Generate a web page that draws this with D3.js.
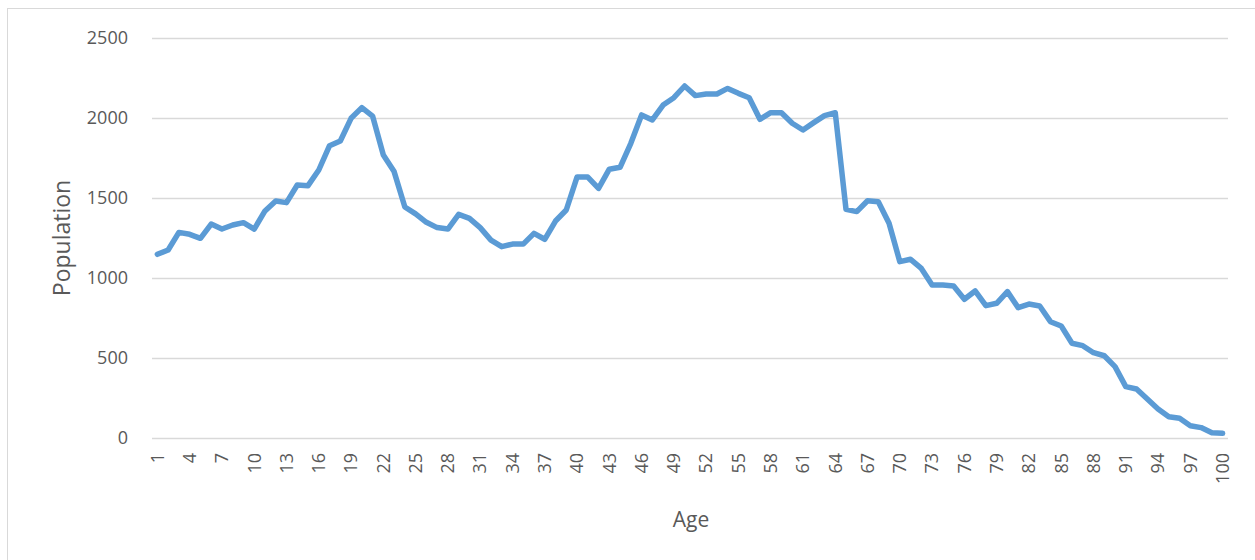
<!DOCTYPE html>
<html>
<head>
<meta charset="utf-8">
<script src="https://cdn.jsdelivr.net/npm/d3@7"></script>
<style>
  body { margin: 0; background: #fff; }
  text { font-family: "Open Sans", sans-serif; fill: #595959; }
</style>
</head>
<body>
<div id="graph"></div>
<script>
const width = 1255;
const height = 560;

// ages 1..100
const ages = d3.range(1, 101);
const population = [
  1148, 1175, 1285, 1273, 1248, 1337, 1306, 1331, 1346, 1306,
  1419, 1481, 1471, 1581, 1577, 1675, 1827, 1856, 1998, 2065,
  2012, 1769, 1665, 1444, 1401, 1348, 1315, 1306, 1398, 1373,
  1315, 1237, 1196, 1212, 1212, 1279, 1242, 1356, 1425, 1631,
  1631, 1560, 1680, 1692, 1842, 2019, 1988, 2081, 2127, 2200,
  2140, 2150, 2150, 2185, 2154, 2127, 1992, 2033, 2033, 1967,
  1925, 1971, 2015, 2033, 1429, 1415, 1483, 1477, 1342, 1102,
  1117, 1060, 956, 956, 950, 867, 919, 827, 842, 915,
  815, 837, 825, 727, 700, 592, 577, 533, 514, 446,
  321, 306, 244, 181, 133, 123, 77, 65, 33, 29
];
const xTickLabels = [1, 4, 7, 10, 13, 16, 19, 22, 25, 28, 31, 34, 37, 40, 43, 46, 49,
  52, 55, 58, 61, 64, 67, 70, 73, 76, 79, 82, 85, 88, 91, 94, 97, 100];
const yTicks = [0, 500, 1000, 1500, 2000, 2500];

const plot = { left: 152, right: 1228, top: 38, bottom: 438 };

var svg = d3.select("#graph")
  .append("svg")
  .attr("width", width)
  .attr("height", height);

// chart frame
svg.append("rect")
  .attr("x", 7.5)
  .attr("y", 8.5)
  .attr("width", 1270)
  .attr("height", 600)
  .attr("fill", "none")
  .attr("stroke", "#d9d9d9");

var xscale = d3.scaleBand()
  .domain(ages)
  .range([plot.left, plot.right]);

var yscale = d3.scaleLinear()
  .domain([0, 2500])
  .range([plot.bottom, plot.top]);

// y axis with gridlines
var yAxis = d3.axisLeft(yscale)
  .tickValues(yTicks)
  .tickFormat(d3.format("d"))
  .tickSize(-(plot.right - plot.left))
  .tickPadding(24);

var gy = svg.append("g")
  .attr("transform", "translate(" + plot.left + ",0)")
  .call(yAxis);
gy.select(".domain").remove();
gy.selectAll("line").attr("stroke", "#d9d9d9").attr("stroke-width", 1.3);
gy.selectAll("text")
  .attr("font-size", "18px")
  .attr("fill", "#595959");

// x axis, labels rotated
var xAxis = d3.axisBottom(xscale)
  .tickValues(xTickLabels)
  .tickSize(0);

var gx = svg.append("g")
  .attr("transform", "translate(0," + plot.bottom + ")")
  .call(xAxis);
gx.select(".domain").remove();
gx.selectAll("text")
  .attr("font-size", "18px")
  .attr("fill", "#595959")
  .attr("text-anchor", "end")
  .attr("y", 0)
  .attr("dy", "0.35em")
  .attr("transform", "translate(0,15) rotate(-90)");

// population line
var line = d3.line()
  .x(function(d, i) { return xscale(ages[i]) + xscale.bandwidth() / 2; })
  .y(function(d) { return yscale(d); });

svg.append("path")
  .datum(population)
  .attr("d", line)
  .attr("fill", "none")
  .attr("stroke", "#5b9bd5")
  .attr("stroke-width", 5.5)
  .attr("stroke-linejoin", "round")
  .attr("stroke-linecap", "round");

// axis titles
svg.append("text")
  .attr("x", 691)
  .attr("y", 527)
  .attr("text-anchor", "middle")
  .attr("font-size", "21px")
  .text("Age");

svg.append("text")
  .attr("transform", "translate(62,238) rotate(-90)")
  .attr("text-anchor", "middle")
  .attr("dy", "0.35em")
  .attr("font-size", "23px")
  .text("Population");
</script>
</body>
</html>
